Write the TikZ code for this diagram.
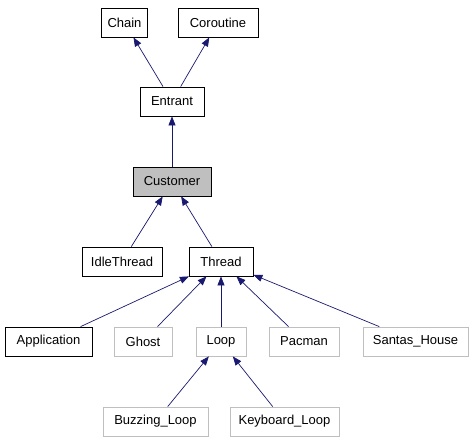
\documentclass[tikz,border=0pt]{standalone}
\usepackage{fontspec}
\setmainfont{Liberation Sans}
\usepackage{tikz}
\usetikzlibrary{arrows.meta, positioning}
\definecolor{ColorEdge}{HTML}{191970}
\definecolor{ColorExt}{HTML}{BFBFBF}

\begin{document}
\begin{tikzpicture}[
x=1pt, y=-1pt,
cls/.style={
	rectangle,
	draw=black,
	fill=white,
	line width=0.8pt,
	minimum height=29pt,
	inner sep=0pt,
	font=\fontsize{13}{15}\selectfont},
ext/.style={
	cls,
	draw=ColorExt},
cur/.style={
	cls,
	fill=ColorExt},
post/.style={
	<-,
	draw,
	line width=0.7pt,
	>={Triangle[length=9pt,width=7pt]},
	color=ColorEdge}]

\useasboundingbox (0,0) rectangle (475,443);

%Bases
\node[cls, minimum width=46pt] (Chain) at (124.5,22.5) {Chain};
\node[cls, minimum width=80pt] (Coroutine) at (218,22.5) {Coroutine};
\node[cls, minimum width=64pt] (Entrant) at (172,101.5) {Entrant};

%Current class
\node[cur, minimum width=78pt] (Customer) at (172,181.5) {Customer};

%Derived
\node[cls, minimum width=80pt] (IdleThread) at (122,261.5) {IdleThread};
\node[cls, minimum width=64pt] (Thread) at (221,261.5) {Thread};

\node[cls, minimum width=87pt] (Application) at (48.5,341.5) {Application};
\node[ext, minimum width=58pt] (Ghost) at (143,341.5) {Ghost};
\node[ext, minimum width=50pt] (Loop) at (221,341.5) {Loop};
\node[ext, minimum width=70pt] (Pacman) at (304,341.5) {Pacman};
\node[ext, minimum width=105pt] (Santas_House) at (415.5,341.5) {Santas\_House};

\node[ext, minimum width=105pt] (Buzzing_Loop) at (155.5,421.5) {Buzzing\_Loop};
\node[ext, minimum width=109pt] (Keyboard_Loop) at (284.5,421.5) {Keyboard\_Loop};

%Inheritance
\path[post] (Chain) to (Entrant);
\path[post] (Coroutine) to (Entrant);
\path[post] (Entrant) to (Customer);
\path[post] (Customer) to (IdleThread);
\path[post] (Customer) to (Thread);

\foreach \i in {Application,Ghost,Loop,Pacman,Santas_House}{
	\path[post] (Thread) to (\i);
}

\path[post] (Loop) to (Buzzing_Loop);
\path[post] (Loop) to (Keyboard_Loop);

\end{tikzpicture}
\end{document}
